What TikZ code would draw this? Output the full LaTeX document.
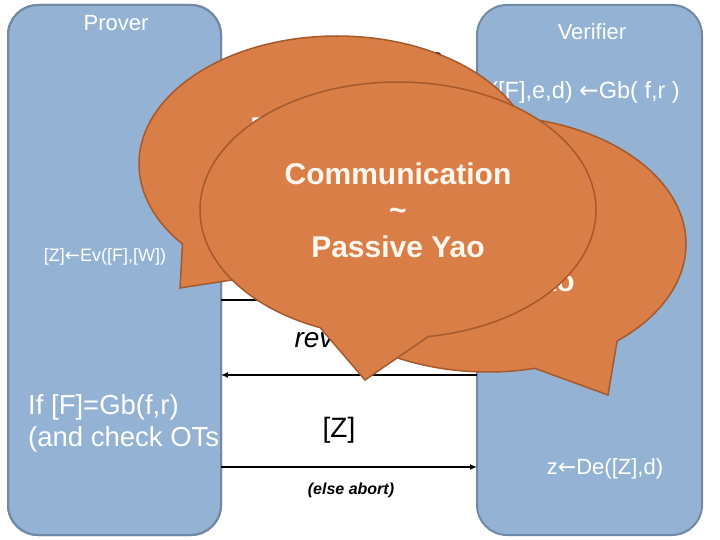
\documentclass[tikz,border=0pt]{standalone}
\usepackage{fontspec}
\setmainfont{Liberation Sans}
\newfontfamily\arrfont{DejaVu Sans}
\newcommand{\getsarr}{{\arrfont ←}}
\usepackage{tikz}
\usetikzlibrary{positioning,arrows.meta,shapes.callouts,calc}
\definecolor{boxfill}{HTML}{94B3D4}
\definecolor{boxline}{HTML}{7089A6}
\definecolor{bubfill}{HTML}{DA7E47}
\definecolor{bubline}{HTML}{A5592C}
\definecolor{bubtext}{HTML}{FFF8EE}
\tikzset{
  party/.style={draw=boxline, fill=boxfill, line width=2pt, rounded corners=30pt,
                minimum height=530pt, outer sep=0pt},
  pname/.style={text=white, font=\fontsize{22}{26}\selectfont, inner sep=0pt},
  stepw/.style={text=white, inner sep=0pt},
  msg/.style={font=\fontsize{28}{32}\selectfont, inner sep=0pt},
  bubble/.style={ellipse callout, draw=bubline, fill=bubfill, line width=1.5pt,
                 minimum width=396pt, minimum height=256pt, align=center, text=bubtext,
                 font=\fontsize{30}{36.5}\selectfont\bfseries},
  ar/.style={-{Latex[length=7pt,width=6pt]}, line width=1.5pt},
}

\begin{document}
\begin{tikzpicture}[x=1pt, y=-1pt]
\useasboundingbox (0,0) rectangle (720,540);
% the two parties
\node[party, minimum width=213pt] (prover) at (114.5,270) {};
\node[party, minimum width=225pt] (verifier) at (589.5,270) {};
\node[pname] (pn) at (116,23) {Prover};
\node[pname] (vn) at (592,32) {Verifier};

% local steps
\node[stepw, font=\fontsize{23.5}{27}\selectfont, anchor=east] (garble) at (680,92) {([F],e,d) \getsarr Gb( f,r )};
\node[stepw, font=\fontsize{18}{22}\selectfont] (eval) at (105,257) {[Z]\getsarr Ev([F],[W])};
\node[stepw, font=\fontsize{27.5}{32}\selectfont, align=left, anchor=west] (check) at (28,423) {If [F]=Gb(f,r)\\(and check OTs)};
\node[stepw, font=\fontsize{22}{26}\selectfont] (decode) at (605,469) {z\getsarr De([Z],d)};
% border again, so the white text stops at it
\draw[boxline, line width=2pt, rounded corners=30pt] (prover.south west) rectangle (prover.north east);

% messages
\coordinate (m1) at (0,300);
\coordinate (m2) at (0,375);
\coordinate (m3) at (0,467);
\draw[ar] (prover.east |- m1) -- (verifier.west |- m1);
\draw[ar] (verifier.west |- m2) -- (prover.east |- m2);
\draw[ar, line width=2.5pt] (prover.east |- m3) -- (verifier.west |- m3);
\node[msg, font=\fontsize{28}{32}\selectfont\itshape] (reveal) at (349,339) {reveal f,r};
\node[msg] (zmsg) at (339,430) {[Z]};
\node[font=\fontsize{16}{19}\selectfont\bfseries\itshape, inner sep=0pt] (abort) at (351,490) {(else abort)};
\node[font=\fontsize{22}{26}\selectfont, inner sep=0pt] (frag) at (437,58.5) {e};

% the three bubbles, back to front
\node[bubble, callout absolute pointer={(180,288)}, callout pointer arc=24] (bprov) at (337,164) {Prover work\\\textasciitilde\\Passive Yao};
\node[bubble, callout absolute pointer={(608,395)}, callout pointer arc=27] (bcomp) at (488,244) {Computation\\\textasciitilde\\Passive Yao};
\node[bubble, callout absolute pointer={(365,380)}, callout pointer arc=32] (bcomm) at (398,210) {Communication\\\textasciitilde\\Passive Yao};
\end{tikzpicture}
\end{document}
